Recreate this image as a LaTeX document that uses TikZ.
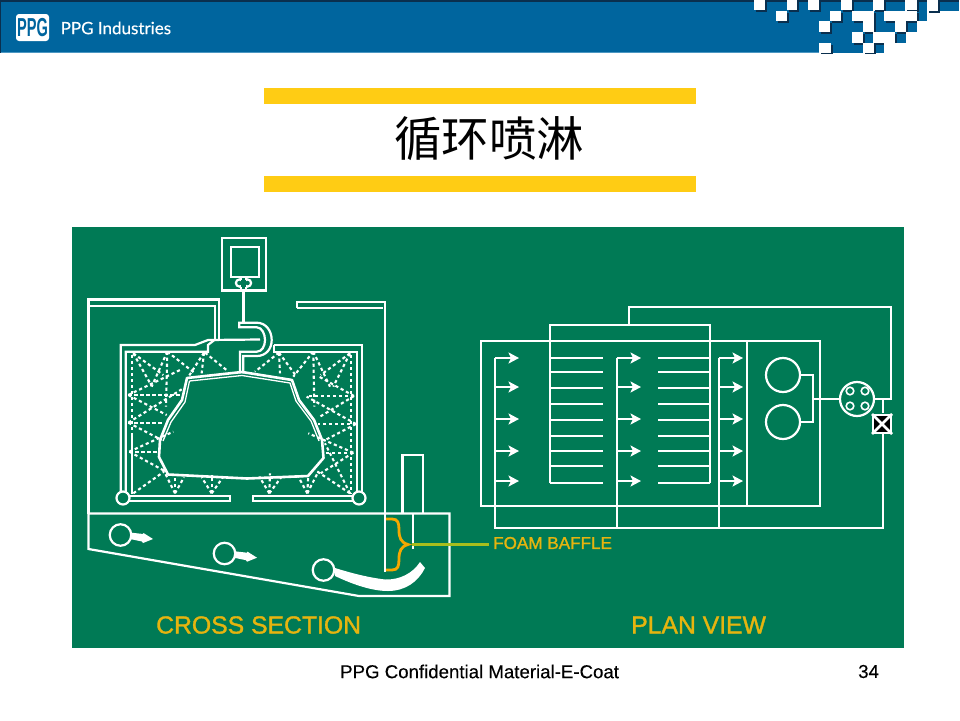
\documentclass[tikz,border=0pt]{standalone}
\usepackage{fontspec}
\setmainfont{Liberation Sans}
\newfontfamily\cjkfont{Noto Sans CJK SC}
\newfontfamily\hdrfont[FakeBold=0.25]{Lato}
\newfontfamily\labfont[FakeBold=1.3]{Liberation Sans}
\newfontfamily\footfont[FakeBold=0.25]{Liberation Sans}
\usetikzlibrary{arrows.meta}
\definecolor{hblue}{HTML}{00659E}
\definecolor{hdark}{HTML}{0A2F4E}
\definecolor{hlight}{HTML}{4C97C2}
\definecolor{bargold}{HTML}{FFCC14}
\definecolor{panel}{HTML}{007A55}
\definecolor{lab}{HTML}{E6B40F}
\definecolor{bracecol}{HTML}{F5A800}
\definecolor{leader}{HTML}{A8BE1E}
\tikzset{
  wl/.style={draw=white,line width=2.2pt,line join=miter},
  spray/.style={draw=white,line width=2.1pt,dash pattern=on 3.2pt off 2.8pt},
  flowarrow/.style={draw=white,line width=2.2pt,-{Stealth[length=10.5pt,width=11pt,inset=2.5pt]}},
  ring/.style={draw=white,line width=2.2pt,fill=panel},
  label/.style={text=lab,inner sep=0pt,anchor=west},
}
\begin{document}
\begin{tikzpicture}[x=1pt,y=-1pt]
\useasboundingbox (0,0) rectangle (960,720);
\fill[white] (0,0) rectangle (960,720);
% header
\fill[hblue] (0,0) rectangle (820,53);
\fill[hlight] (0,51.5) rectangle (818,53);
\fill[hdark] (0,0) rectangle (720,1.8);
\fill[hdark] (0,0) rectangle (1,53);
\begin{scope}
\clip (720,0) rectangle (960,53);
\begin{scope}[shift={(720,0)},x=0.3333pt,y=-0.3333pt]
 \fill[white] (0,0) rectangle (720,160);
 \fill[hblue] (0,0) rectangle (298,160);
 \fill[hlight] (0,155) rectangle (298,160);
 \fill[hblue] (298,0) rectangle (428,64);
 \fill[hblue] (298,64) rectangle (428,97);
 \fill[hblue] (298,97) rectangle (395,128);
 \fill[hblue] (333,128) rectangle (428,160);
 \fill[hblue] (428,97) rectangle (460,128);
 \fill[hblue] (397,0) rectangle (460,32);
 \fill[hblue] (495,0) rectangle (555,32);
 \fill[hblue] (590,0) rectangle (622,64);
 \fill[hblue] (655,0) rectangle (718,32);
 \fill[hblue] (462,32) rectangle (492,97);
 \fill[hblue] (492,64) rectangle (525,97);
 \fill[hblue] (558,64) rectangle (590,97);
 \fill[hblue] (525,97) rectangle (557,128);
 \fill[hdark] (0,0) rectangle (718,6);
 \foreach \a/\b/\c/\d in {103/0/135/30,200/0/232/30,265/0/298/30,362/0/395/30,460/0/492/30,555/0/590/30,622/0/655/32,168/32/200/62,330/32/362/62,395/32/462/64,492/32/590/64,298/64/330/95,428/64/462/97,525/64/558/97,395/97/428/128,460/97/525/128,298/128/333/160,428/128/462/160}{
   \fill[hdark] (\a+6,\b+6) rectangle (\c+6,\d+6);
 }
 \foreach \a/\b/\c/\d in {103/0/135/30,200/0/232/30,265/0/298/30,362/0/395/30,460/0/492/30,555/0/590/30,622/0/655/32,168/32/200/62,330/32/362/62,395/32/462/64,492/32/590/64,298/64/330/95,428/64/462/97,525/64/558/97,395/97/428/128,460/97/525/128,298/128/333/160,428/128/462/160}{
   \fill[white] (\a,\b) rectangle (\c,\d);
 }
 \fill[white] (428,128) rectangle (720,160);
 \fill[hdark] (462,130) rectangle (492,160);
 \fill[hblue] (467,136) rectangle (492,160);
 \fill[white] (590,64) rectangle (720,128);
 \fill[white] (557,97) rectangle (590,128);
\end{scope}
\end{scope}
% logo
\fill[white,rounded corners=3pt] (16,14) rectangle (49,41);
\node[text=hblue,inner sep=0pt,font=\bfseries\fontsize{26}{26}\selectfont,xscale=0.56] (logo) at (32.5,27.5) {PPG};
\node[text=white,inner sep=0pt,anchor=west,font=\hdrfont\fontsize{17}{17}\selectfont] (brand) at (60.5,28) {PPG Industries};
% title
\fill[bargold] (264,88) rectangle (696,104);
\fill[bargold] (264,176) rectangle (696,192);
\node[inner sep=0pt,font=\cjkfont\fontsize{47.5}{47.5}\selectfont] (title) at (489,139) {循环喷淋};
% panel
\fill[panel] (72,227) rectangle (904,648);
% footer
\node[inner sep=0pt,anchor=west,font=\footfont\fontsize{18.65}{18.65}\selectfont] (foot) at (340,671.5) {PPG Confidential Material-E-Coat};
\node[inner sep=0pt,anchor=west,font=\footfont\fontsize{18.65}{18.65}\selectfont] (pg) at (858,671.5) {34};
% ---- cross section: carrier
\draw[wl] (222,238) rectangle (266,290.5);
\draw[wl] (231,247) rectangle (259,277);
\draw[wl] (243.5,290.5) -- (243.5,322.7);
\draw[wl] (239.5,283) circle (3.6) (247.5,283) circle (3.6);
\fill[panel] (240.8,278.5) rectangle (246.2,288);
\draw[wl] (241,277) -- (241,279.5) (246,277) -- (246,279.5) (241,286.5) -- (241,290) (246,286.5) -- (246,290);
% hook
\draw[wl] (243.3,373.3) -- (243.3,356) -- (256.7,356) .. controls (266,356) and (271.7,349) .. (271.7,340) .. controls (271.7,331) and (266,322.7) .. (256.7,322.7) -- (239.3,322.7) -- (239.3,327.3) -- (256.7,327.3) .. controls (262,327.3) and (265,334) .. (265,340) .. controls (265,346) and (262,351.7) .. (256.7,351.7) -- (240,351.7) -- (240,373.3);
% outer tank wall
\draw[wl] (88.5,513.5) -- (88.5,299.5) -- (219,299.5) -- (219,339.5);
\draw[wl] (88.5,306) -- (215,306) -- (215,339.5);
\draw[wl] (297,308) -- (297,302) -- (385,302) -- (385,572);
\draw[wl] (297,308) -- (383,308);
% booth walls
\draw[wl] (120.7,497) -- (120.7,345) -- (195,345) -- (208,340) -- (260,339.5);
\draw[wl] (125.7,497) -- (125.7,351.7) -- (208,351.7) -- (208,345) -- (215,339.5);
\draw[wl] (131.7,434) -- (131.7,494);
\draw[wl] (274,345) -- (361.7,345) -- (361.7,497);
\draw[wl] (274,345) -- (274,351.7) -- (356.7,351.7) -- (356.7,497);
\draw[wl] (129,496) rectangle (230,501);
\draw[wl] (252.7,496) rectangle (353,501);
% spray (coordinates read from a 3x crop at 80,230)
\begin{scope}[shift={(80,230)},x=0.3333pt,y=-0.3333pt]
\foreach \x/\y/\u/\v in {
 160/370/250/435, 160/370/215/468, 157/375/157/790,
 262/365/345/430, 262/365/258/530, 262/365/215/470,
 372/368/365/430, 375/368/442/422, 372/368/328/436,
 145/495/300/495, 145/495/300/420, 145/495/260/555,
 145/578/250/578, 145/578/305/478, 145/578/245/630,
 148/665/240/665, 148/665/280/605, 148/665/252/722,
 160/790/252/725, 
 285/790/248/715, 285/790/285/745, 285/790/312/742,
 395/790/365/742, 395/790/395/735, 395/790/430/740,
 568/790/538/740, 568/790/570/730, 568/790/605/740,
 682/790/655/740, 682/790/685/735, 682/790/715/725,
 810/370/722/435, 810/370/760/470, 812/375/812/790,
 700/365/640/440, 700/365/703/530, 700/365/750/470,
 597/368/600/430, 597/368/525/425, 597/368/650/440,
 822/498/680/498, 822/498/712/437, 822/498/720/560,
 828/582/715/582, 828/582/680/500, 828/582/732/632,
 820/668/735/668, 820/668/685/610, 820/668/722/730,
 810/790/708/722, 810/790/735/640}{
  \draw[spray] (\x,\y) -- (\u,\v);
}
\end{scope}
% car body
\draw[draw=white,line width=2.6pt,line join=round] (187,378) -- (242,372) -- (292,380) -- (299,400) -- (314,420) -- (322,440) -- (323.5,458) -- (308,476) -- (247,478.5) -- (168,474.5) -- (159,457) -- (160,440) -- (168,420) -- (182,400) -- cycle;
\draw[draw=white,line width=1.3pt,line join=round] (189.5,381) -- (242,375.5) -- (290,383) -- (296,401) -- (311,421) -- (319,441);
\draw[draw=white,line width=1.3pt,line join=round] (189.5,381) -- (185,402) -- (171,422) -- (163,441);
% rollers
\node[ring,circle,minimum size=13pt,inner sep=0pt] (rl) at (123,498) {};
\node[ring,circle,minimum size=13pt,inner sep=0pt] (rr) at (359,498) {};
% tank below
\draw[wl] (88.5,513.5) -- (449.5,513.5) -- (449.5,596) -- (359,596) -- (88.5,549) -- cycle;
\draw[wl] (402.5,513.5) -- (402.5,455) -- (423,455) -- (423,513.5);
\draw[wl] (413,513.5) -- (413,549);
% pipes and jets
\fill[white] (130,532.5) -- (143,534) -- (143.5,533) -- (153,539) -- (143,543) -- (142,541.5) -- (130,539) -- cycle;
\fill[white] (234,551.2) -- (247,552.7) -- (247.5,551.7) -- (257,557.7) -- (247,561.7) -- (246,560.2) -- (234,557.7) -- cycle;
\fill[white] (335,568) .. controls (348,572) and (365,577) .. (385,579.5) .. controls (400,580) and (413,573) .. (420,562) -- (425,568) .. controls (418,582) and (405,591) .. (388,591) .. controls (370,591) and (350,583) .. (335,576) -- cycle;
\node[ring,circle,minimum size=21.5pt,inner sep=0pt] (j1) at (120.5,535) {};
\node[ring,circle,minimum size=21.5pt,inner sep=0pt] (j2) at (224.5,553.5) {};
\node[ring,circle,minimum size=21.5pt,inner sep=0pt] (j3) at (323.5,570) {};
% brace and leader
\draw[bracecol,line width=2.8pt] (386,519) -- (392,519) .. controls (398,519) and (399,523) .. (399,530) .. controls (399,538) and (401,542.5) .. (408,544.5) .. controls (401,546.5) and (399,551) .. (399,559) .. controls (399,566) and (398,570) .. (392,570) -- (386,570);
\coordinate (ls) at (412,544.5);
\coordinate (le) at (489,544.5);
\node[label,font=\labfont\fontsize{17.1}{17.1}\selectfont] (fb) at (493,543) {FOAM BAFFLE};
\draw[leader,line width=2.2pt] (ls) -- (le);
\node[label,font=\labfont\fontsize{24.75}{24.75}\selectfont] (cs) at (156,625) {CROSS SECTION};
\node[label,font=\labfont\fontsize{24.75}{24.75}\selectfont] (pv) at (631,625) {PLAN VIEW};
% ---- plan view
\draw[wl] (481,341) rectangle (820,506);
\draw[wl] (747,341) -- (747,506);
\draw[wl] (550,483) -- (550,325) -- (710,325) -- (710,483);
\foreach \y in {358,372,388,404,420,436,451,466,483}{
  \draw[wl] (550,\y) -- (603,\y);
  \draw[wl] (658,\y) -- (710,\y);
}
\draw[wl] (629,325) -- (629,307) -- (891,307) -- (891,399) -- (874,399);
\draw[wl] (495,358) -- (495,528) -- (883,528) -- (883,434);
\draw[wl] (617,358) -- (617,528);
\draw[wl] (719,358) -- (719,528);
\foreach \x/\t in {495/519,617/641,719/743}{
  \foreach \y in {358,387,419,451,481}{
    \draw[flowarrow] (\x,\y) -- (\t,\y);
  }
}
\node[ring,circle,minimum size=34pt,inner sep=0pt] (p1) at (783,375) {};
\node[ring,circle,minimum size=34pt,inner sep=0pt] (p2) at (783,422) {};
\draw[wl] (p1.east) -- (813,375) -- (813,422) -- (p2.east);
\node[ring,circle,minimum size=34pt,inner sep=0pt] (pm) at (857,399) {};
\draw[wl] (813,399) -- (pm.west);
\foreach \a/\b in {850/391,865/391,850/406,865/406}{
  \draw[draw=white,line width=1.6pt] (\a,\b) circle (3.8);
}
\draw[wl] (883,399) -- (883,413);
\node[draw=white,fill=black,line width=2pt,minimum size=18pt,inner sep=0pt] (vb) at (882,424) {};
\draw[white,line width=2.6pt] (vb.north west) -- (vb.south east) (vb.north east) -- (vb.south west);
\end{tikzpicture}
\end{document}
